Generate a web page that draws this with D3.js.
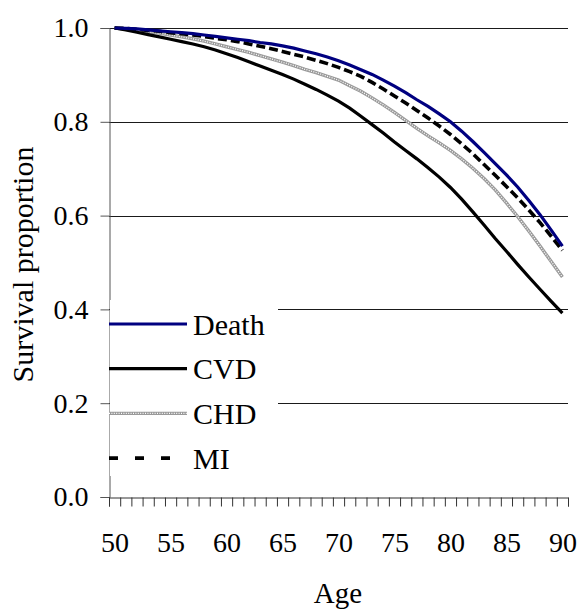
<!DOCTYPE html>
<html>
<head>
<meta charset="utf-8">
<script src="https://cdn.jsdelivr.net/npm/d3@7"></script>
<style>
  body { margin: 0; background: #fff; }
  text { font-family: "Liberation Serif", "DejaVu Serif", serif; fill: #000; }
</style>
</head>
<body>
<div id="chart"></div>
<script>
// ages on the category axis
var ages = d3.range(50, 91);
var tickAges = [50, 55, 60, 65, 70, 75, 80, 85, 90];
var yTicks = [0, 0.2, 0.4, 0.6, 0.8, 1.0];

// survival proportions, one per year of age
var death = [1.000, 0.999, 0.998, 0.996, 0.994, 0.992, 0.990, 0.988, 0.985, 0.982,
             0.979, 0.976, 0.973, 0.969, 0.966, 0.962, 0.957, 0.951, 0.945, 0.938,
             0.930, 0.921, 0.911, 0.901, 0.889, 0.876, 0.862, 0.847, 0.833, 0.817,
             0.800, 0.780, 0.758, 0.735, 0.711, 0.687, 0.661, 0.632, 0.602, 0.569, 0.535];
var cvd   = [1.000, 0.996, 0.991, 0.986, 0.981, 0.976, 0.971, 0.966, 0.960, 0.953,
             0.945, 0.937, 0.928, 0.919, 0.910, 0.901, 0.891, 0.880, 0.869, 0.857,
             0.844, 0.829, 0.812, 0.794, 0.776, 0.757, 0.739, 0.721, 0.702, 0.682,
             0.660, 0.635, 0.608, 0.580, 0.551, 0.524, 0.496, 0.469, 0.443, 0.417, 0.392];
var chd   = [1.000, 0.998, 0.995, 0.992, 0.989, 0.985, 0.981, 0.977, 0.972, 0.966,
             0.960, 0.954, 0.948, 0.941, 0.934, 0.927, 0.920, 0.912, 0.905, 0.897,
             0.889, 0.877, 0.865, 0.851, 0.836, 0.820, 0.803, 0.786, 0.770, 0.755,
             0.739, 0.721, 0.701, 0.679, 0.655, 0.627, 0.598, 0.567, 0.535, 0.502, 0.469];
var mi    = [1.000, 0.999, 0.997, 0.995, 0.993, 0.990, 0.988, 0.985, 0.982, 0.978,
             0.975, 0.971, 0.966, 0.961, 0.956, 0.950, 0.944, 0.938, 0.931, 0.924,
             0.916, 0.907, 0.897, 0.884, 0.870, 0.855, 0.840, 0.824, 0.808, 0.791,
             0.773, 0.753, 0.732, 0.709, 0.686, 0.662, 0.638, 0.612, 0.585, 0.556, 0.526];

var seriesNames = ["Death", "CVD", "CHD", "MI"];

function drawChart() {
  var width = 579, height = 610;
  var mLeft = 109, mRight = 568, mTop = 28, mBottom = 497;
  var tickFont = 28, titleFont = 29, legendFont = 30;

  var svg = d3.select("#chart").append("svg")
    .attr("width", width)
    .attr("height", height);

  // category axis: one slot per age, labels in the middle of the slot
  var x = d3.scaleLinear().domain([49.5, 90.5]).range([mLeft, mRight]);
  var y = d3.scaleLinear().domain([0, 1]).range([mBottom, mTop]);

  // gridlines
  svg.append("g")
    .selectAll("line")
    .data(yTicks.filter(function(d){ return d > 0; }))
    .enter().append("line")
    .attr("x1", mLeft).attr("x2", mRight)
    .attr("y1", function(d){ return Math.round(y(d)) + 0.5; })
    .attr("y2", function(d){ return Math.round(y(d)) + 0.5; })
    .attr("stroke", "#1a1a1a")
    .attr("stroke-width", 1);

  // y axis
  var yAxis = svg.append("g")
    .attr("transform", "translate(" + (mLeft + 0.5) + ",0)")
    .call(d3.axisLeft(y).tickValues(yTicks).tickSize(9).tickPadding(12)
          .tickFormat(d3.format(".1f")));
  yAxis.select(".domain").attr("stroke", "#555");
  yAxis.selectAll(".tick line").attr("stroke", "#555");
  yAxis.selectAll(".tick text").attr("font-size", tickFont)
    .attr("font-family", "Liberation Serif").attr("fill", "#000");

  // x axis: boundary ticks
  var bounds = d3.range(49.5, 91, 1);
  var xAxis = svg.append("g")
    .attr("transform", "translate(0," + (mBottom + 0.5) + ")")
    .call(d3.axisBottom(x).tickValues(bounds).tickSize(9).tickFormat(""));
  xAxis.select(".domain").attr("stroke", "#333");
  xAxis.selectAll(".tick line").attr("stroke", "#333");

  // x axis labels
  var xLabels = svg.append("g")
    .attr("transform", "translate(0," + (mBottom + 0.5) + ")")
    .call(d3.axisBottom(x).tickValues(tickAges).tickSize(0).tickPadding(35));
  xLabels.select(".domain").remove();
  xLabels.selectAll(".tick text").attr("font-size", tickFont)
    .attr("font-family", "Liberation Serif").attr("fill", "#000");

  // axis titles
  svg.append("text")
    .attr("x", 338).attr("y", 603)
    .attr("text-anchor", "middle")
    .attr("font-size", titleFont)
    .text("Age");

  svg.append("text")
    .attr("transform", "translate(33," + ((mTop + mBottom) / 2 + 2) + ") rotate(-90)")
    .attr("text-anchor", "middle")
    .attr("font-size", legendFont)
    .text("Survival proportion");

  // lines
  var line = d3.line()
    .x(function(d, i){ return x(ages[i]); })
    .y(function(d){ return y(d); });

  function drawSeries(g, name, pathData, isLegend) {
    if (name === "Death") {
      g.append("path").attr("d", pathData).attr("fill", "none")
        .attr("stroke", "#000080").attr("stroke-width", 3.2);
    } else if (name === "CVD") {
      g.append("path").attr("d", pathData).attr("fill", "none")
        .attr("stroke", "#000").attr("stroke-width", 3.2);
    } else if (name === "CHD") {
      g.append("path").attr("d", pathData).attr("fill", "none")
        .attr("stroke", "#9a9a9a").attr("stroke-width", 3.4);
      g.append("path").attr("d", pathData).attr("fill", "none")
        .attr("stroke", "#fff").attr("stroke-width", 1.3)
        .attr("stroke-dasharray", "1,1.4");
    } else if (name === "MI") {
      g.append("path").attr("d", pathData).attr("fill", "none")
        .attr("stroke", "#000").attr("stroke-width", 3.6)
        .attr("stroke-dasharray", isLegend ? "9,17" : "9,4");
    }
  }

  var plot = svg.append("g");
  drawSeries(plot, "CHD", line(chd));
  drawSeries(plot, "CVD", line(cvd));
  drawSeries(plot, "MI", line(mi));
  drawSeries(plot, "Death", line(death));

  // legend
  var legend = svg.append("g");
  legend.append("rect")
    .attr("x", mLeft + 1).attr("y", 300)
    .attr("width", 168).attr("height", 176)
    .attr("fill", "#fff");

  seriesNames.forEach(function(name, i) {
    var ly = 324 + i * 44.7;
    drawSeries(legend, name, "M" + mLeft + "," + ly + "H187", true);
    legend.append("text")
      .attr("x", 193).attr("y", ly)
      .attr("dy", "0.35em")
      .attr("font-size", legendFont)
      .text(name);
  });
}

drawChart();
</script>
</body>
</html>
